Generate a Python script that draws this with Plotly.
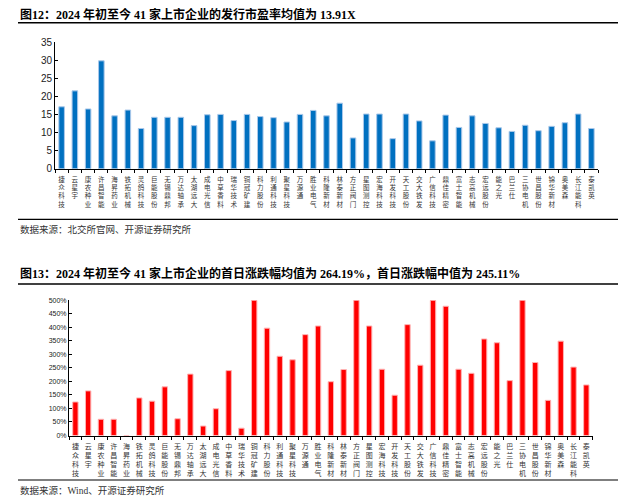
import plotly.graph_objects as go

companies = ["捷众科技", "云星宇", "康农种业", "许昌智能", "海昇药业", "铁拓机械", "灵鸽科技",
             "巨能股份", "无锡鼎邦", "万达轴承", "太湖远大", "成电光信", "中草香料", "瑞华技术",
             "铜冠矿建", "科力股份", "利通科技", "聚星科技", "万源通", "胜业电气", "科隆新材",
             "林泰新材", "方正阀门", "星图测控", "宏海科技", "开发科技", "天工股份", "交大铁发",
             "广信科技", "鼎佳精密", "富士智能", "志高机械", "宏远股份", "能之光", "巴兰仕",
             "三协电机", "世昌股份", "锦华新材", "奥美森", "长江能科", "泰凯英"]

pe_ratio = [17.1, 21.5, 16.5, 29.8, 14.6, 16.2, 11.1, 14.2, 14.2, 14.2, 11.9, 14.9, 15.0, 13.3,
            15.0, 14.4, 14.1, 12.9, 15.0, 16.1, 14.6, 18.1, 8.5, 15.1, 15.1, 8.3, 15.1, 13.2,
            7.7, 14.8, 11.4, 14.6, 12.5, 11.3, 10.3, 12.0, 10.5, 11.7, 12.7, 15.1, 11.1]

first_day_pct = [124, 165, 60, 60, 0, 139, 127, 180, 62, 227, 35, 99, 240, 27,
                 500, 397, 293, 280, 373, 405, 199, 244, 500, 405, 245, 149, 410, 260,
                 500, 478, 245, 230, 357, 343, 203, 500, 270, 130, 349, 253, 187]

title1 = "图12：2024 年初至今 41 家上市企业的发行市盈率均值为 13.91X"
title2 = "图13：2024 年初至今 41 家上市企业的首日涨跌幅均值为 264.19%，首日涨跌幅中值为 245.11%"
source1 = "数据来源：北交所官网、开源证券研究所"
source2 = "数据来源：Wind、开源证券研究所"

# the page body has an 8px margin, so the figure is placed at (8, 8)
OFF = 8
W, H = 639 - OFF, 502 - OFF
def px(v):
    return (v - OFF) / W
def py(v):
    return 1 - (v - OFF) / H

vertical = ["<br>".join(list(n)) for n in companies]

fig = go.Figure()
fig.add_trace(go.Bar(x=companies, y=pe_ratio, xaxis="x", yaxis="y",
                     marker=dict(color="#0070C0", line=dict(color="#A9C8EA", width=1))))
fig.add_trace(go.Bar(x=companies, y=[v / 100 for v in first_day_pct], xaxis="x2", yaxis="y2",
                     marker=dict(color="#FF0000", line=dict(color="#FFB3B3", width=1))))

cat_family = "Liberation Serif, Noto Sans CJK SC"
fig.update_layout(
    width=W, height=H, margin=dict(l=0, r=0, t=0, b=0),
    paper_bgcolor="white", plot_bgcolor="white", showlegend=False, bargap=0.58,
    xaxis=dict(domain=[px(55), px(598)], type="category", tickmode="array",
               tickvals=companies, ticktext=vertical, tickangle=0,
               tickfont=dict(family=cat_family, size=6.5, color="#333333"),
               ticklabelstandoff=4,
               showline=True, linecolor="black", linewidth=1, ticks="outside",
               tickson="boundaries", ticklen=3, tickcolor="black", showgrid=False,
               automargin=False, anchor="y"),
    yaxis=dict(domain=[py(168.7), py(42)], range=[0, 35], dtick=5, showline=True,
               linecolor="black", linewidth=1, ticks="inside", ticklen=3, tickcolor="black",
               showgrid=False, zeroline=False, automargin=False, anchor="x",
               tickfont=dict(family="Liberation Sans", size=10, color="#222222")),
    xaxis2=dict(domain=[px(69), px(592.7)], type="category", tickmode="array",
                tickvals=companies, ticktext=vertical, tickangle=0,
                tickfont=dict(family=cat_family, size=7, color="#333333"),
                ticklabelstandoff=4,
                showline=True, linecolor="black", linewidth=1, ticks="outside",
                tickson="boundaries", ticklen=3, tickcolor="black", showgrid=False,
                automargin=False, anchor="y2"),
    yaxis2=dict(domain=[py(435.5), py(300.3)], range=[0, 5], dtick=0.5, tickformat=".0%",
                showline=True, linecolor="black", linewidth=1, ticks="inside", ticklen=3,
                tickcolor="black", showgrid=False, zeroline=False, automargin=False,
                anchor="x2", tickfont=dict(family="Liberation Sans", size=7, color="#222222")),
)

title_font = dict(family="Liberation Serif, Noto Sans CJK SC", size=12, color="black")
src_font = dict(family="Liberation Serif, Noto Sans CJK SC", size=9.5, color="#333333")
for text, y, f in [(f"<b>{title1}</b>", 14, title_font), (f"<b>{title2}</b>", 273, title_font),
                   (source1, 229, src_font), (source2, 490, src_font)]:
    fig.add_annotation(text=text, xref="paper", yref="paper", x=px(18), y=py(y),
                       xanchor="left", yanchor="middle", showarrow=False, font=f)

for y, w in [(22.7, 1.6), (219.3, 1.2), (284, 1.6), (480, 1.2)]:
    fig.add_shape(type="line", xref="paper", yref="paper", x0=px(18), x1=px(618),
                  y0=py(y), y1=py(y), line=dict(color="black", width=w))

fig.write_html("out.html")
